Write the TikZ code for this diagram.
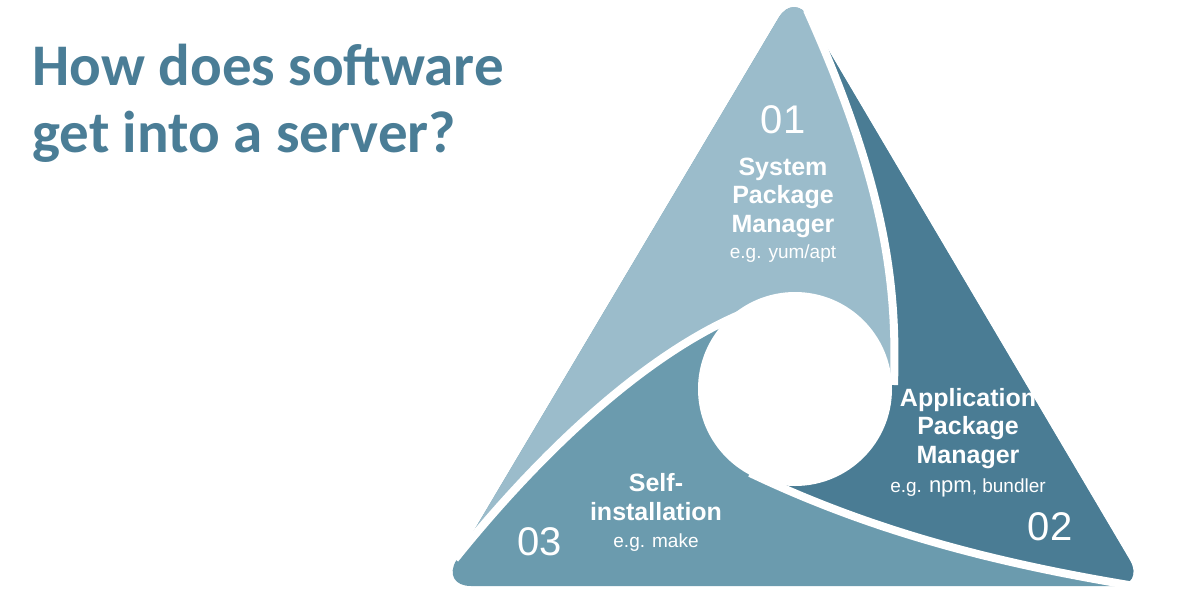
\documentclass[tikz,border=0pt]{standalone}
\usepackage{fontspec}
\setmainfont{Liberation Sans}
\newfontfamily\titlefont{Carlito}
\definecolor{bladelight}{HTML}{9BBCCB}
\definecolor{blademid}{HTML}{6B9BAE}
\definecolor{bladedark}{HTML}{4A7C94}
\definecolor{titleblue}{HTML}{4A7D96}
\tikzset{
    num/.style={text=white, font=\fontsize{40}{40}\selectfont},
    head/.style={text=white, align=center, font=\fontsize{25}{28.5}\selectfont\bfseries},
    note/.style={text=white, font=\fontsize{19}{22}\selectfont},
    gap/.style={white, line width=8pt},
    title/.style={text=titleblue, align=left, font=\titlefont\fontsize{59}{67}\selectfont\bfseries},
}

\begin{document}
\begin{tikzpicture}[x=1pt,y=-1pt]
    \useasboundingbox (0,0) rectangle (1203,611);
    \fill[blademid, rounded corners=30] (794,-8) -- (441,586) -- (1145,586) -- cycle;
    \begin{scope}
        \clip[rounded corners=30] (794,-8) -- (441,586) -- (1145,586) -- cycle;
        \fill[bladelight] (455,559) .. controls (562,426) and (673,335) .. (765,305) -- (795,389) -- (894,385) .. controls (897,290) and (888,190) .. (807,10) -- (850,-50) -- (300,-50) -- cycle;
        \fill[bladedark] (807,10) .. controls (888,190) and (897,290) .. (894,385) -- (795,389) -- (750,473) .. controls (880,535) and (1011,567) .. (1160,590) -- (1250,650) -- (1250,-50) -- (850,-50) -- cycle;
    \end{scope}
    \draw[gap] (807,10) .. controls (888,190) and (897,290) .. (894,385);
    \draw[gap] (455,559) .. controls (562,426) and (673,335) .. (765,305);
    \draw[gap] (750,473) .. controls (880,535) and (1011,567) .. (1160,590);
    \fill[white] (795,389) circle (97);

    \node[title, anchor=base west] (ttl) at (29,152) {How does software\\get into a server?};

    \node[num] (n1) at (783,120) {01};
    \node[head, anchor=base] (h1) at (783,232) {System\\Package\\Manager};
    \node[note, anchor=base] (e1) at (783,258) {e.g. yum/apt};

    \node[head, anchor=base] (h2) at (968,463) {Application\\Package\\Manager};
    \node[note, anchor=base] (e2) at (968,492) {e.g. {\fontsize{22}{22}\selectfont npm}, bundler};
    \node[num] (n2) at (1050,527) {02};

    \node[head, anchor=base] (h3) at (656,520) {Self-\\installation};
    \node[note, anchor=base] (e3) at (656,547) {e.g. make};
    \node[num] (n3) at (540,542) {03};
\end{tikzpicture}
\end{document}
